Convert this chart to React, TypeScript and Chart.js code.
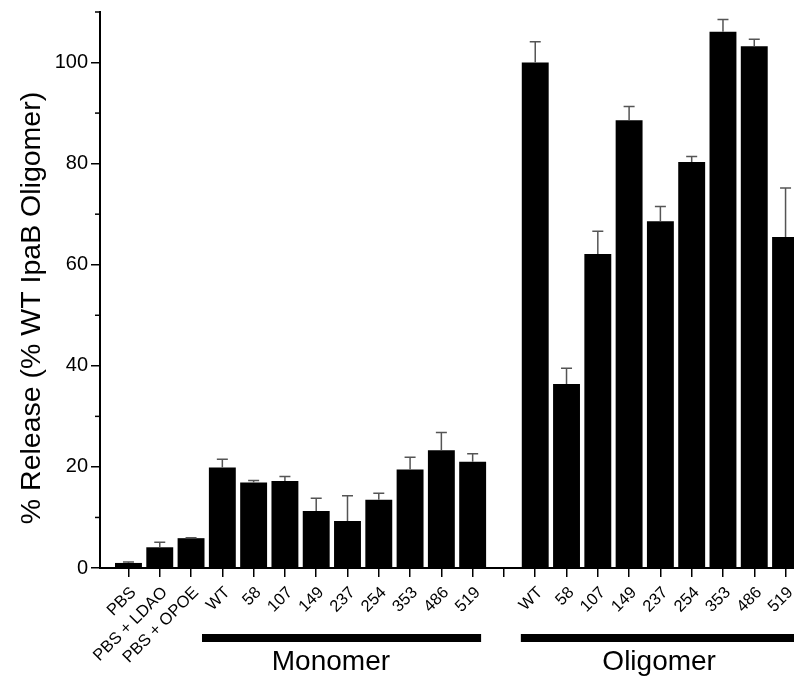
import React, { useEffect, useRef } from 'react';
import { Chart, registerables } from 'chart.js';

Chart.register(...registerables);

// ---- data ----
const categories = [
  'PBS', 'PBS + LDAO', 'PBS + OPOE',
  'WT', '58', '107', '149', '237', '254', '353', '486', '519',
  '',
  'WT', '58', '107', '149', '237', '254', '353', '486', '519',
];
const releaseValues: (number | null)[] = [
  1.0, 4.1, 5.9,
  19.9, 16.9, 17.2, 11.3, 9.3, 13.5, 19.5, 23.3, 21.0,
  null,
  100, 36.4, 62.1, 88.6, 68.6, 80.3, 106.1, 103.2, 65.5,
];
const errorValues: (number | null)[] = [
  0.2, 1.0, 0.1,
  1.6, 0.4, 0.9, 2.5, 5.0, 1.3, 2.4, 3.5, 1.6,
  null,
  4.1, 3.1, 4.5, 2.7, 2.9, 1.1, 2.4, 1.4, 9.7,
];
const yMajorTicks = [0, 20, 40, 60, 80, 100];
const yMinorTicks = [10, 30, 50, 70, 90, 110];
const groupNames = ['Monomer', 'Oligomer'];
const yTitle = '% Release (% WT IpaB Oligomer)';

// ---- layout (positions in category units) ----
const groupSpans = [
  { from: 2.35, to: 11.27, labelAt: 6.47 },
  { from: 12.54, to: 21.7, labelAt: 16.96 },
];

const FONT = '"Liberation Sans", Arial, sans-serif';

const decorations = {
  id: 'decorations',
  afterDatasetsDraw(chart: any) {
    const { ctx, scales } = chart;
    const xs = scales.x;
    const ys = scales.y;
    ctx.save();
    // error bars
    ctx.strokeStyle = '#555555';
    ctx.lineWidth = 1.5;
    releaseValues.forEach((v, i) => {
      const e = errorValues[i];
      if (v == null || e == null) return;
      const x = xs.getPixelForValue(i);
      const yb = ys.getPixelForValue(v);
      const yt = ys.getPixelForValue(v + e);
      ctx.beginPath();
      ctx.moveTo(x, yb);
      ctx.lineTo(x, yt);
      ctx.moveTo(x - 5.5, yt);
      ctx.lineTo(x + 5.5, yt);
      ctx.stroke();
    });
    ctx.restore();
  },
  afterDraw(chart: any) {
    const { ctx, scales, chartArea } = chart;
    const xs = scales.x;
    const ys = scales.y;
    ctx.save();
    // minor y ticks
    ctx.strokeStyle = '#000';
    ctx.lineWidth = 1.5;
    yMinorTicks.forEach((v) => {
      const y = ys.getPixelForValue(v);
      ctx.beginPath();
      ctx.moveTo(chartArea.left - 5, y);
      ctx.lineTo(chartArea.left, y);
      ctx.stroke();
    });
    // group bars and labels
    ctx.fillStyle = '#000';
    groupSpans.forEach((g, k) => {
      const x0 = xs.getPixelForValue(g.from);
      const x1 = xs.getPixelForValue(g.to);
      ctx.fillRect(x0, chartArea.bottom + 66, x1 - x0, 8);
      ctx.font = `28px ${FONT}`;
      ctx.textAlign = 'center';
      ctx.textBaseline = 'alphabetic';
      ctx.fillText(groupNames[k], xs.getPixelForValue(g.labelAt), chartArea.bottom + 102);
    });
    // y title
    ctx.translate(32, 308);
    ctx.rotate(-Math.PI / 2);
    ctx.font = `28.5px ${FONT}`;
    ctx.textAlign = 'center';
    ctx.textBaseline = 'middle';
    ctx.fillText(yTitle, 0, 0);
    ctx.restore();
  },
};

export default function App() {
  const ref = useRef<HTMLCanvasElement>(null);
  useEffect(() => {
    if (!ref.current) return;
    const chart = new Chart(ref.current, {
      type: 'bar',
      data: {
        datasets: [
          {
            data: releaseValues.map((v, i) => ({ x: i, y: v })) as any,
            backgroundColor: '#000',
            borderColor: '#000',
            borderWidth: 0,
            barPercentage: 0.86,
            categoryPercentage: 1,
          },
        ],
      },
      options: {
        responsive: false,
        animation: false,
        events: [],
        layout: { padding: { top: 12, left: 0, right: 0, bottom: 0 }, autoPadding: false },
        plugins: { legend: { display: false }, tooltip: { enabled: false } },
        scales: {
          x: {
            type: 'linear',
            min: -0.91,
            max: 21.27,
            offset: false,
            grid: {
              offset: false,
              drawOnChartArea: false,
              drawTicks: true,
              tickLength: 9,
              color: '#000',
              lineWidth: 1.5,
            },
            border: { display: true, color: '#000', width: 2 },
            ticks: {
              stepSize: 1,
              includeBounds: false,
              autoSkip: false,
              minRotation: 45,
              maxRotation: 45,
              padding: 6,
              labelOffset: 5,
              color: '#000',
              font: { family: FONT, size: 16.5 },
              callback: (val: any) => {
                const i = Math.round(Number(val));
                return Number.isInteger(Number(val)) && categories[i] !== undefined ? categories[i] : '';
              },
            },
            afterFit: (s: any) => {
              s.height = 112;
              s.paddingLeft = 0;
              s.paddingRight = 0;
            },
          },
          y: {
            type: 'linear',
            min: 0,
            max: 110,
            grid: {
              drawOnChartArea: false,
              drawTicks: true,
              tickLength: 9,
              lineWidth: 1.5,
              color: (c: any) =>
                c.tick && yMajorTicks.includes(c.tick.value) ? '#000' : 'rgba(0,0,0,0)',
            },
            border: { display: true, color: '#000', width: 2 },
            ticks: {
              stepSize: 20,
              padding: 3,
              color: '#000',
              font: { family: FONT, size: 20 },
              callback: (val: any) => (yMajorTicks.includes(Number(val)) ? String(val) : ''),
            },
            afterFit: (s: any) => {
              s.width = 100;
              s.paddingTop = 0;
              s.paddingBottom = 0;
            },
          },
        },
      },
      plugins: [decorations],
    });
    return () => chart.destroy();
  }, []);
  return (
    <div style={{ position: 'absolute', left: 0, top: 0, width: 794, height: 680, overflow: 'hidden', background: '#fff' }}>
      <canvas ref={ref} width={794} height={680} style={{ display: 'block' }} />
    </div>
  );
}
